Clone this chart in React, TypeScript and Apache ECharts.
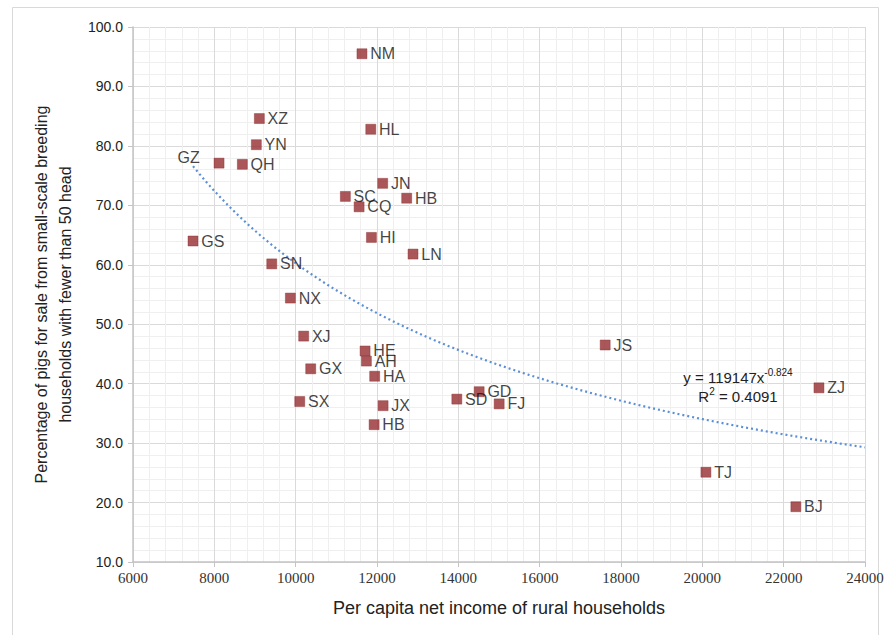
import React, { useEffect, useRef } from "react";
import * as echarts from "echarts";

const provinces = ["NM","XZ","YN","GZ","GS","QH","SN","HL","JN","SC","HB","CQ","HI","LN","NX","XJ","HE","AH","GX","HA","SX","JX","HB","SD","GD","FJ","JS","ZJ","TJ","BJ"];
const incomes = [11630,9107,9033,8116,7476,8689,9412,11847,12140,11222,12730,11560,11863,12886,9870,10197,11707,11739,10370,11943,10100,12150,11929,13963,14512,15004,17611,22868,20088,22300];
const shares = [95.5,84.6,80.2,77.1,64.0,76.9,60.15,82.8,73.7,71.5,71.2,69.75,64.6,61.8,54.4,48.0,45.5,43.8,42.5,41.25,37.0,36.3,33.1,37.4,38.65,36.6,46.5,39.3,25.1,19.3];

// Displayed power trendline: y = A * x^B
const trendA = 119147;
const trendB = -0.824;
const trendR2 = "0.4091";
const trendStart = 7476;
const trendEnd = 24000;

const xTicks = { min: 6000, max: 24000, interval: 2000 };
const yTicks = { min: 10, max: 100, interval: 10 };

export default function App() {
  const ref = useRef<HTMLDivElement>(null);
  useEffect(() => {
    if (!ref.current) return;
    const chart = echarts.init(ref.current, null, { renderer: "svg" });
    const points = provinces.map((p, i) => {
      const item: any = { name: p, value: [incomes[i], shares[i]] };
      if (p === "GZ") {
        item.label = { position: "left", offset: [-11, -6] };
      }
      return item;
    });
    const trend: number[][] = [];
    const steps = 120;
    for (let i = 0; i <= steps; i++) {
      const x = trendStart + ((trendEnd - trendStart) * i) / steps;
      trend.push([x, trendA * Math.pow(x, trendB)]);
    }
    const sans = "'Liberation Sans', Arial, sans-serif";
    chart.setOption({
      animation: false,
      backgroundColor: "#ffffff",
      grid: { left: 133, right: 25, top: 27, bottom: 73 },
      xAxis: {
        type: "value",
        min: xTicks.min,
        max: xTicks.max,
        interval: xTicks.interval,
        name: "Per capita net income of rural households",
        nameLocation: "middle",
        nameGap: 37,
        nameTextStyle: { fontFamily: sans, fontSize: 18, color: "#222" },
        axisLine: { show: true, lineStyle: { color: "#c4c4c4", width: 1.5 } },
        axisTick: { show: true, length: 5, lineStyle: { color: "#c4c4c4" } },
        axisLabel: {
          fontFamily: "'Liberation Serif', serif", fontSize: 15, color: "#333", margin: 8,
          formatter: (v: number) => String(v),
        },
        splitLine: { show: true, lineStyle: { color: "#dadada" } },
        minorTick: { show: false, splitNumber: 5 },
        minorSplitLine: { show: true, lineStyle: { color: "#efefef" } },
      },
      yAxis: {
        type: "value",
        min: yTicks.min,
        max: yTicks.max,
        interval: yTicks.interval,
        name: "Percentage of pigs for sale from small-scale breeding\nhouseholds with fewer than 50 head",
        nameLocation: "middle",
        nameGap: 55,
        nameRotate: 90,
        nameTextStyle: { fontFamily: sans, fontSize: 16, color: "#222", lineHeight: 24 },
        axisLine: { show: true, lineStyle: { color: "#c4c4c4", width: 1.5 } },
        axisTick: { show: true, length: 5, lineStyle: { color: "#c4c4c4" } },
        axisLabel: {
          fontFamily: sans, fontSize: 14, color: "#222", margin: 10,
          formatter: (v: number) => v.toFixed(1),
        },
        splitLine: { show: true, lineStyle: { color: "#dadada" } },
        minorTick: { show: false, splitNumber: 5 },
        minorSplitLine: { show: true, lineStyle: { color: "#efefef" } },
      },
      series: [
        {
          type: "line",
          data: trend,
          showSymbol: false,
          symbol: "none",
          smooth: false,
          lineStyle: { color: "#5b8fd6", width: 2.2, type: [2, 3] },
          silent: true,
          z: 2,
        },
        {
          type: "scatter",
          data: points,
          symbol: "rect",
          symbolSize: 10,
          itemStyle: { color: "#962d2f", borderColor: "#85272a", borderWidth: 0.5 },
          label: {
            show: true,
            position: "right",
            distance: 3,
            formatter: "{b}",
            fontFamily: sans,
            fontSize: 16,
            color: "#111",
          },
          z: 3,
        },
      ],
      graphic: [
        {
          type: "rect",
          shape: { x: 12.5, y: 7.5, width: 866, height: 640 },
          style: { fill: "none", stroke: "#d9d9d9", lineWidth: 1 },
          silent: true,
        },
        {
          type: "text",
          x: 738,
          y: 377,
          style: {
            text: "{n|y = 119147x}{s|-0.824}",
            align: "center",
            verticalAlign: "middle",
            rich: {
              n: { fontFamily: sans, fontSize: 15, fill: "#222" },
              s: { fontFamily: sans, fontSize: 10, fill: "#222", verticalAlign: "top", padding: [0, 0, 10, 0] },
            },
          },
          z: 10,
        },
        {
          type: "text",
          x: 738,
          y: 396,
          style: {
            text: "{n|R}{s|2}{n| = " + trendR2 + "}",
            align: "center",
            verticalAlign: "middle",
            rich: {
              n: { fontFamily: sans, fontSize: 15, fill: "#222" },
              s: { fontFamily: sans, fontSize: 10, fill: "#222", padding: [0, 0, 10, 0] },
            },
          },
          z: 10,
        },
      ],
    });
    return () => chart.dispose();
  }, []);
  return (
    <div
      ref={ref}
      style={{ position: "fixed", left: 0, top: 0, width: 890, height: 635 }}
    />
  );
}
